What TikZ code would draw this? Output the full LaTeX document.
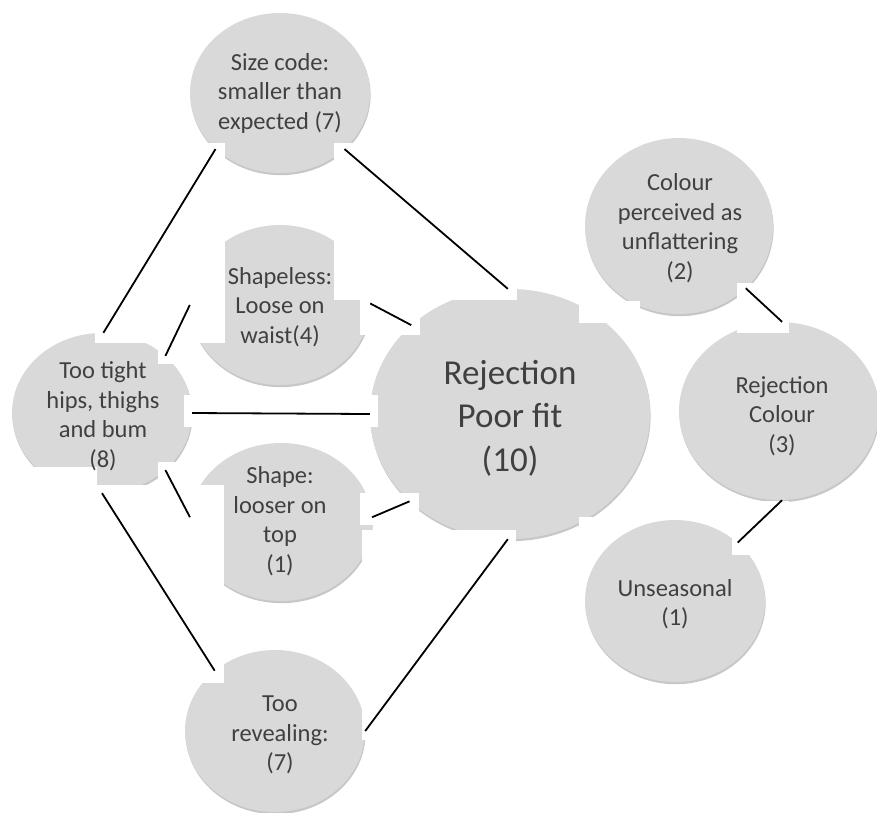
\documentclass[tikz,border=0pt]{standalone}
\usepackage{fontspec}
\setmainfont{Carlito}
\usetikzlibrary{shapes.geometric,shadows}
\definecolor{bubgrey}{RGB}{217,217,217}
\definecolor{txtgrey}{RGB}{64,64,64}
\begin{document}
\begin{tikzpicture}[x=1pt,y=-1pt,
  bub/.style={ellipse, fill=bubgrey, inner sep=0pt, draw=none,
    drop shadow={shadow xshift=0.6pt, shadow yshift=-2.2pt, fill=black, opacity=0.22}},
  wbox/.style={fill=white, draw=none},
  txt/.style={align=center, text=txtgrey, inner sep=0pt, font=\fontsize{24.5}{29.5}\selectfont},
  bigtxt/.style={align=center, text=txtgrey, inner sep=0pt, font=\fontsize{35}{43.5}\selectfont},
  link/.style={draw=black, line width=1.8pt}
]
\useasboundingbox (0,0) rectangle (877,812);
% bubbles
\node[bub, minimum width=180pt, minimum height=160pt] (S)  at (280,93)  {};
\node[bub, minimum width=180pt, minimum height=160pt] (H)  at (280,305) {};
\node[bub, minimum width=180pt, minimum height=160pt] (T)  at (102,413) {};
\node[bub, minimum width=182pt, minimum height=158pt] (L)  at (281,522) {};
\node[bub, minimum width=180pt, minimum height=162pt] (R)  at (275,731) {};
\node[bub, minimum width=280pt, minimum height=250pt] (P)  at (510,414) {};
\node[bub, minimum width=188pt, minimum height=176pt] (C)  at (679,226) {};
\node[bub, minimum width=200pt, minimum height=178pt] (RC) at (779,411) {};
\node[bub, minimum width=180pt, minimum height=162pt] (U)  at (675,601) {};
% white boxes behind the connectors
\fill[wbox] (95,143) rectangle (225,343);
\fill[wbox] (334,143) rectangle (517,300);
\fill[wbox] (158,296) rectangle (199,364);
\fill[wbox] (360,295) rectangle (420,335);
\fill[wbox] (184,395) rectangle (378,427);
\fill[wbox] (158,462) rectangle (199,525);
\fill[wbox] (360,493) rectangle (419,525);
\fill[wbox] (95,485) rectangle (224,683);
\fill[wbox] (362,530) rectangle (516,740);
\fill[wbox] (737,283) rectangle (789,333);
\fill[wbox] (732,501) rectangle (789,555);
\fill[wbox] (579,301) rectangle (640,323);
\fill[wbox] (579,517) rectangle (600,545);
\fill[wbox] (10,467) rectangle (97,500);
% connectors
\draw[link] (S.221) -- (T.89);
\draw[link] (S.319) -- (P.91);
\draw[link] (H.180) -- (T.42);
\draw[link] (H.1) -- (P.138);
\draw[link] (T.0) -- (P.180);
\draw[link] (T.318) -- (L.177);
\draw[link] (L.3) -- (P.221);
\draw[link] (T.270) -- (R.135);
\draw[link] (P.269) -- (R.0);
\draw[link] (C.317) -- (RC.88);
\draw[link] (RC.272) -- (U.43);
% texts
\node[txt] (Stxt) at (280,93) {Size code:\\smaller than\\expected (7)};
\node[txt] (Htxt) at (280,307) {Shapeless:\\Loose on\\waist(4)};
\node[txt] (Ttxt) at (103,416) {Too tight\\hips, thighs\\and bum\\(8)};
\node[txt] (Ltxt) at (280,521) {Shape:\\looser on\\top\\(1)};
\node[txt] (Rtxt) at (280,735) {Too\\revealing:\\(7)};
\node[bigtxt] (Ptxt) at (510,418) {Rejection\\Poor fit\\(10)};
\node[txt] (Ctxt) at (680,228) {Colour\\perceived as\\unflattering\\(2)};
\node[txt] (RCtxt) at (782,416) {Rejection\\Colour\\(3)};
\node[txt] (Utxt) at (675,604) {Unseasonal\\(1)};
\end{tikzpicture}
\end{document}
